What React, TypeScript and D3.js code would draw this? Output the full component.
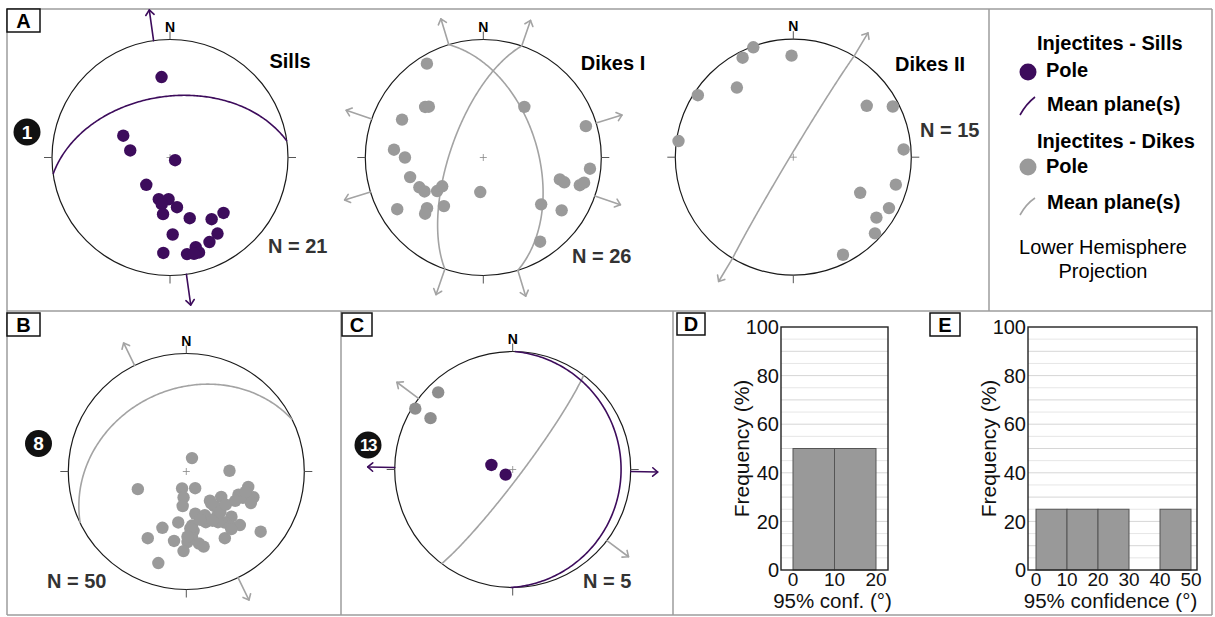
import React from 'react';
import * as d3 from 'd3';

const FONT = '"Liberation Sans", Arial, Helvetica, sans-serif';
const PURPLE = '#3d0c5c';
const GREY_DOT = '#9a9a9a';
const GREY_LINE = '#a3a3a3';
const FRAME = '#9d9d9d';

// poles: [trend, plunge]; planes: [dip direction, dip] (degrees)
const sillsPoles = [[354, 32], [295, 54], [280, 62], [118, 86], [221, 65], [195, 60], [182, 61], [190, 57], [172, 55], [187, 50], [162, 45], [146, 37], [136, 35], [178, 35], [148, 25], [155, 22], [184, 20], [170, 18], [164, 22], [163, 17], [166, 17]];
const sillsPlanes = [[352, 47]];

const dikes1Poles = [[329, 8], [311, 35], [313, 37], [295, 25], [275, 25], [270, 34], [255, 36], [245, 40], [240, 42], [234, 50], [235, 55], [239, 16], [228, 36], [226, 32], [219, 46], [185, 66], [39, 44], [73, 10], [96, 10], [106, 33], [107, 29], [106, 16], [104, 13], [129, 37], [124, 21], [146, 15]];
const dikes1Planes = [[73, 52], [289, 67]];

const dikes2Poles = [[340, 1], [333, 6], [359, 15], [321, 25], [303, 4], [278, 2], [55, 25], [63, 6], [86, 7], [105, 11], [118, 36], [118, 9], [126, 14], [133, 6], [153, 8]];
const dikes2Planes = [[301, 88]];

const site8Poles = [[23, 80], [89, 60], [250, 54], [194, 78], [152, 77], [186, 72], [186, 66], [104, 45], [114, 50], [115, 46], [111, 39], [116, 39], [121, 50], [141, 64], [126, 60], [141, 59], [139, 56], [168, 60], [157, 57], [157, 54], [146, 52], [135, 45], [143, 45], [148, 48], [141, 40], [135, 36], [189, 54], [174, 52], [173, 48], [203, 47], [210, 35], [190, 40], [179, 40], [175, 44], [170, 38], [167, 35], [182, 33], [150, 35], [129, 20], [197, 20], [142, 38], [159, 52], [152, 51], [176, 50], [140, 53], [142, 62], [109, 46], [130, 54], [164, 55], [179, 44]];
const site8Planes = [[334, 31]];

const site13SillPoles = [[282, 75], [234, 84]];
const site13SillPlanes = [[91, 9]];
const site13DikePoles = [[316, 10], [302, 3], [302, 19]];
const site13DikePlanes = [[127, 84]];

const histDEdges = [0, 10, 20];
const histDFreq = [50, 50];
const histEEdges = [0, 10, 20, 30, 40, 50];
const histEFreq = [25, 25, 25, 0, 25];
const freqTicks = [0, 20, 40, 60, 80, 100];
const freqGrid = d3.range(5, 100, 5);

const toGeo = (trend: number, plunge: number): [number, number] => [180 - trend, plunge];

type Layer = { poles: number[][]; planes: number[][]; color: string; dot: string; arrows: 'dip' | 'strike' | 'both' };

function Stereonet({ cx, cy, R, layers, arrowLen = 27 }: { cx: number; cy: number; R: number; layers: Layer[]; arrowLen?: number }) {
  const proj = d3.geoAzimuthalEqualArea()
    .scale(R / Math.SQRT2)
    .translate([cx, cy])
    .rotate([0, -90])
    .clipAngle(90)
    .precision(0.1);
  const path = d3.geoPath(proj);

  const unit = (az: number) => {
    const p = proj(toGeo(az, 0)) as [number, number];
    return [(p[0] - cx) / R, (p[1] - cy) / R];
  };

  const arrow = (az: number, color: string, key: string) => {
    const [ux, uy] = unit(az);
    const x1 = cx + ux * R, y1 = cy + uy * R;
    const x2 = cx + ux * (R + arrowLen), y2 = cy + uy * (R + arrowLen);
    const a = Math.atan2(uy, ux);
    const h = 6.5, s = 0.7;
    const p1 = [x2 - h * Math.cos(a - s), y2 - h * Math.sin(a - s)];
    const p2 = [x2 - h * Math.cos(a + s), y2 - h * Math.sin(a + s)];
    return (
      <g key={key} stroke={color} strokeWidth={1.6} fill="none" strokeLinecap="round" strokeLinejoin="round">
        <line x1={x1} y1={y1} x2={x2} y2={y2} />
        <polyline points={`${p1[0]},${p1[1]} ${x2},${y2} ${p2[0]},${p2[1]}`} />
      </g>
    );
  };

  const greatCircle = (dd: number, dip: number) => {
    const ring = d3.geoCircle().center(toGeo(dd + 180, 90 - dip)).radius(90).precision(1)().coordinates[0];
    return path({ type: 'LineString', coordinates: ring } as any) || '';
  };

  const ticks = [0, 90, 180, 270].map(az => {
    const [ux, uy] = unit(az);
    return <line key={az} x1={cx + ux * R} y1={cy + uy * R} x2={cx + ux * (R + 8)} y2={cy + uy * (R + 8)} stroke="#555" strokeWidth={1} />;
  });

  return (
    <g>
      <circle cx={cx} cy={cy} r={R} fill="none" stroke="#1a1a1a" strokeWidth={1.2} />
      {ticks}
      <path d={`M${cx - 3.5},${cy}H${cx + 3.5}M${cx},${cy - 3.5}V${cy + 3.5}`} stroke="#888" strokeWidth={0.8} />
      <text x={cx} y={cy - R - 8} textAnchor="middle" fontFamily={FONT} fontWeight="bold" fontSize={14}>N</text>
      {layers.map((l, li) => (
        <g key={'pl' + li}>
          {l.planes.map(([dd, dip], i) => (
            <g key={i}>
              <path d={greatCircle(dd, dip)} fill="none" stroke={l.color} strokeWidth={1.6} />
              {(l.arrows === 'dip' || l.arrows === 'both') && [dd, dd + 180].map((az, j) => arrow(az, l.color, `d${i}${j}`))}
              {(l.arrows === 'strike' || l.arrows === 'both') && [dd - 90, dd + 90].map((az, j) => arrow(az, l.color, `s${i}${j}`))}
            </g>
          ))}
        </g>
      ))}
      {layers.map((l, li) => (
        <g key={'po' + li}>
          {l.poles.map(([t, p], i) => {
            const [x, y] = proj(toGeo(t, p)) as [number, number];
            return <circle key={i} cx={x} cy={y} r={6.2} fill={l.dot} />;
          })}
        </g>
      ))}
    </g>
  );
}

function Histogram({ left, right, top, bottom, x0, x1, edges, freq, title }: any) {
  const x = d3.scaleLinear().domain([edges[0], edges[edges.length - 1]]).range([x0, x1]);
  const y = d3.scaleLinear().domain([0, 100]).range([bottom, top]);
  return (
    <g fontFamily={FONT}>
      {freqGrid.map(v => (
        <line key={v} x1={left} x2={right} y1={y(v)} y2={y(v)} stroke={v % 10 === 0 ? '#d6d6d6' : '#e6e6e6'} strokeWidth={1} />
      ))}
      {freq.map((f: number, i: number) => f > 0 && (
        <rect key={i} x={x(edges[i])} y={y(f)} width={x(edges[i + 1]) - x(edges[i])} height={bottom - y(f)} fill="#999" stroke="#555" strokeWidth={1} />
      ))}
      <rect x={left} y={top} width={right - left} height={bottom - top} fill="none" stroke="#222" strokeWidth={1.4} />
      {freqTicks.map(v => (
        <text key={v} x={left - 2} y={y(v)} dy="0.36em" textAnchor="end" fontSize={20} fill="#111">{v}</text>
      ))}
      {edges.map((v: number) => (
        <text key={v} x={x(v)} y={bottom + 16} textAnchor="middle" fontSize={19} fill="#111">{v}</text>
      ))}
      <text transform={`translate(${left - 32},${(top + bottom) / 2}) rotate(-90)`} textAnchor="middle" fontSize={21} fill="#111">Frequency (%)</text>
      <text x={(left + right) / 2 - 2} y={bottom + 38} textAnchor="middle" fontSize={20.5} fill="#111">{title}</text>
    </g>
  );
}

function LabelBox({ x, y, w, h, label }: any) {
  return (
    <g>
      <rect x={x} y={y} width={w} height={h} fill="#fff" stroke="#111" strokeWidth={1.5} />
      <text x={x + w / 2} y={y + h / 2} dy="0.36em" textAnchor="middle" fontFamily={FONT} fontWeight="bold" fontSize={20}>{label}</text>
    </g>
  );
}

function Badge({ x, y, label }: any) {
  return (
    <g>
      <circle cx={x} cy={y} r={13.5} fill="#111" />
      <text x={x} y={y} dy="0.36em" textAnchor="middle" fontFamily={FONT} fontWeight="bold" fontSize={label.length > 1 ? 17 : 19} letterSpacing={label.length > 1 ? -1.5 : 0} fill="#fff">{label}</text>
    </g>
  );
}

export default function App() {
  const R = 118;
  const bold = { fontFamily: FONT, fontWeight: 'bold' as const, fontSize: 20 };
  return (
    <svg width={1215} height={617} style={{ position: 'absolute', left: 0, top: 0, background: '#fff' }}>
      <rect width={1215} height={617} fill="#fff" />
      {/* panel frames */}
      <g stroke={FRAME} strokeWidth={1.5}>
        <line x1={7} x2={1212} y1={9} y2={9} />
        <line x1={7} x2={1212} y1={311} y2={311} />
        <line x1={7} x2={1212} y1={615} y2={615} />
        <line x1={7} x2={7} y1={9} y2={615} />
        <line x1={1212} x2={1212} y1={9} y2={615} />
        <line x1={989} x2={989} y1={9} y2={311} />
        <line x1={341} x2={341} y1={311} y2={615} />
        <line x1={673} x2={673} y1={311} y2={615} />
      </g>

      {/* panel A */}
      <Stereonet cx={170} cy={157.5} R={R} layers={[{ poles: sillsPoles, planes: sillsPlanes, color: PURPLE, dot: PURPLE, arrows: 'dip' }]} arrowLen={31} />
      <Stereonet cx={483.3} cy={157.5} R={R} layers={[{ poles: dikes1Poles, planes: dikes1Planes, color: GREY_LINE, dot: GREY_DOT, arrows: 'both' }]} />
      <Stereonet cx={793.3} cy={157.2} R={R} layers={[{ poles: dikes2Poles, planes: dikes2Planes, color: GREY_LINE, dot: GREY_DOT, arrows: 'strike' }]} />
      <text x={290} y={68} textAnchor="middle" {...bold}>Sills</text>
      <text x={613} y={70} textAnchor="middle" {...bold}>Dikes I</text>
      <text x={930} y={71} textAnchor="middle" {...bold}>Dikes II</text>
      <text x={268} y={253} {...bold} fill="#333">N = 21</text>
      <text x={572} y={263} {...bold} fill="#333">N = 26</text>
      <text x={920} y={137} {...bold} fill="#333">N = 15</text>
      <Badge x={27} y={132} label="1" />

      {/* legend */}
      <g {...bold}>
        <text x={1037} y={50}>Injectites - Sills</text>
        <circle cx={1028} cy={72} r={8.5} fill={PURPLE} />
        <text x={1046} y={77}>Pole</text>
        <path d="M1020,115 Q1026,104 1035,97" fill="none" stroke={PURPLE} strokeWidth={1.6} />
        <text x={1047} y={111}>Mean plane(s)</text>
        <text x={1037} y={148}>Injectites - Dikes</text>
        <circle cx={1028} cy={167} r={8.5} fill={GREY_DOT} />
        <text x={1046} y={173}>Pole</text>
        <path d="M1020,215 Q1026,204 1035,198" fill="none" stroke={GREY_LINE} strokeWidth={1.6} />
        <text x={1047} y={209}>Mean plane(s)</text>
      </g>
      <text x={1103} y={254} textAnchor="middle" fontFamily={FONT} fontSize={20}>Lower Hemisphere</text>
      <text x={1103} y={278} textAnchor="middle" fontFamily={FONT} fontSize={20}>Projection</text>

      {/* panel B */}
      <Stereonet cx={186.3} cy={471.5} R={R} layers={[{ poles: site8Poles, planes: site8Planes, color: GREY_LINE, dot: GREY_DOT, arrows: 'dip' }]} arrowLen={25} />
      <text x={47} y={588} {...bold} fill="#333">N = 50</text>
      <Badge x={38.5} y={443.5} label="8" />

      {/* panel C */}
      <Stereonet cx={512.7} cy={469.5} R={R} layers={[
        { poles: site13DikePoles, planes: site13DikePlanes, color: GREY_LINE, dot: '#8e8e8e', arrows: 'dip' },
        { poles: site13SillPoles, planes: site13SillPlanes, color: PURPLE, dot: PURPLE, arrows: 'dip' },
      ]} arrowLen={27} />
      <text x={583} y={588} {...bold} fill="#333">N = 5</text>
      <Badge x={368} y={445} label="13" />

      {/* panels D and E */}
      <Histogram left={781} right={888} top={327} bottom={570} x0={793} x1={876} edges={histDEdges} freq={histDFreq} title="95% conf. (°)" />
      <Histogram left={1028} right={1197} top={327} bottom={570} x0={1036} x1={1191} edges={histEEdges} freq={histEFreq} title="95% confidence (°)" />

      <LabelBox x={7} y={9} w={33} h={23} label="A" />
      <LabelBox x={7} y={313} w={33} h={23} label="B" />
      <LabelBox x={342} y={313} w={30} h={23} label="C" />
      <LabelBox x={677} y={313} w={28} h={22} label="D" />
      <LabelBox x={930} y={313} w={30} h={23} label="E" />
    </svg>
  );
}
